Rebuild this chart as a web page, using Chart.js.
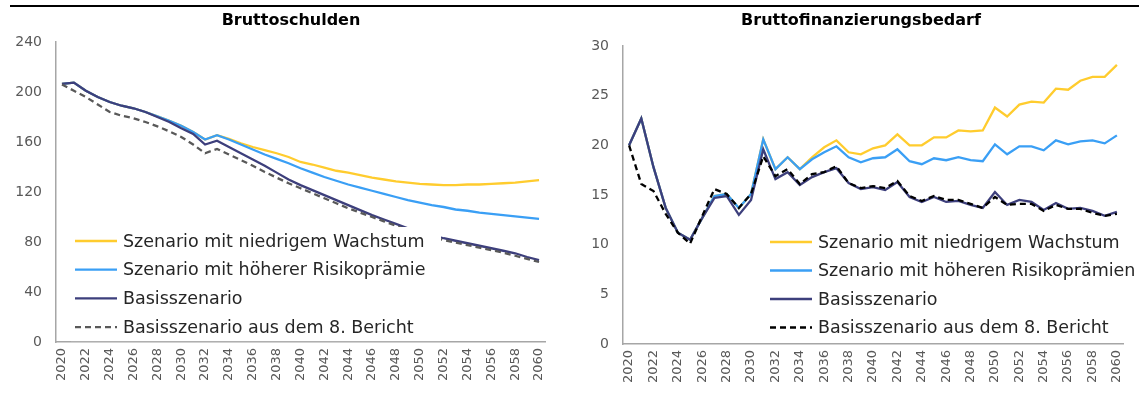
<!DOCTYPE html>
<html>
<head>
<meta charset="utf-8">
<script src="https://cdn.jsdelivr.net/npm/chart.js@4"></script>
<style>
  body { margin: 0; background: #fff; width: 1139px; height: 405px; overflow: hidden; position: relative; font-family: 'DejaVu Sans', sans-serif; }
  .rule { position: absolute; left: 10px; right: 0; top: 5px; border-top: 2px solid #000; }
  .box { position: absolute; top: 0; height: 405px; }
  #left { left: 0; width: 570px; }
  #right { left: 570px; width: 569px; }
  .title { position: absolute; top: 10px; width: 400px; margin-left: -200px; text-align: center; font-weight: bold; font-size: 16px; line-height: 20px; color: #000; }
</style>
</head>
<body>
<div class="rule"></div>
<div class="box" id="left"><canvas id="debtChart"></canvas></div>
<div class="box" id="right"><canvas id="gfnChart"></canvas></div>
<div class="title" style="left:291px">Bruttoschulden</div>
<div class="title" style="left:861px">Bruttofinanzierungsbedarf</div>
<script>
// Jahre
const years = ['2020','2021','2022','2023','2024','2025','2026','2027','2028','2029',
  '2030','2031','2032','2033','2034','2035','2036','2037','2038','2039',
  '2040','2041','2042','2043','2044','2045','2046','2047','2048','2049',
  '2050','2051','2052','2053','2054','2055','2056','2057','2058','2059','2060'];

const seriesNames = ['Szenario mit niedrigem Wachstum', 'Szenario mit höherer Risikoprämie', 'Basisszenario', 'Basisszenario aus dem 8. Bericht'];
const seriesNamesGfn = ['Szenario mit niedrigem Wachstum', 'Szenario mit höheren Risikoprämien', 'Basisszenario', 'Basisszenario aus dem 8. Bericht'];

// Bruttoschulden
const debtLowGrowth = [206.5,207.5,201,196,192,189,187,184,180.5,177,
  173,168,162,165.5,162.5,159,156,153.5,151,148,
  144,142,139.5,137,135.5,133.5,131.5,130,128.5,127.5,
  126.5,126,125.5,125.5,126,126,126.5,127,127.5,128.5,129.5];
const debtRiskPremium = [206.5,207.5,201,196,192,189,187,184,180.5,177,
  173,168,162,165.5,162,158,154,150,146.5,143,
  139,135.5,132,129,126,123.5,121,118.5,116,113.5,
  111.5,109.5,108,106,105,103.5,102.5,101.5,100.5,99.5,98.5];
const debtBase = [206.5,207.5,201,196,192,189,187,184,180,176,
  171,166.5,158,161,156,151,146,141,135.5,130,
  125.5,121.5,117.5,113.5,109.5,105.5,101.5,98,94.5,91,
  88,85.5,83,81,79,77,75,73,71,68,65.5];
const debtBase8 = [206,201,196,190,184,181,179,176,172.5,168.5,
  164,158,151,154.5,150,145.5,141,136,131.5,127,
  123,119,115,111,107,103.5,100,96.5,93,89.5,
  86.5,84,81.5,79.5,77.5,75.5,73.5,71.5,69,66.5,64];

// Bruttofinanzierungsbedarf
const gfnLowGrowth = [20,22.7,17.8,13.7,11.2,10.5,12.7,14.9,15.1,13.7,
  15.1,20.6,17.6,18.8,17.6,18.8,19.8,20.5,19.3,19.1,
  19.7,20.0,21.1,20.0,20.0,20.8,20.8,21.5,21.4,21.5,
  23.8,22.9,24.1,24.4,24.3,25.7,25.6,26.5,26.9,26.9,28.1];
const gfnRiskPremium = [20,22.7,17.8,13.7,11.2,10.5,12.7,14.9,15.1,13.7,
  15.1,20.6,17.6,18.8,17.6,18.6,19.3,19.9,18.8,18.3,
  18.7,18.8,19.6,18.4,18.1,18.7,18.5,18.8,18.5,18.4,
  20.1,19.1,19.9,19.9,19.5,20.5,20.1,20.4,20.5,20.2,21.0];
const gfnBase = [20,22.7,17.8,13.7,11.2,10.5,12.7,14.7,14.9,13.0,
  14.5,19.6,16.6,17.3,16.0,16.8,17.3,17.7,16.2,15.6,
  15.8,15.5,16.3,14.8,14.3,14.8,14.3,14.4,14.0,13.7,
  15.3,14.0,14.5,14.3,13.5,14.2,13.6,13.7,13.4,12.9,13.3];
const gfnBase8 = [20,16.1,15.4,13.1,11.2,10.1,12.9,15.6,15.1,13.7,
  15.1,18.9,16.9,17.6,16.1,17.1,17.3,17.9,16.2,15.7,
  15.9,15.7,16.4,14.9,14.4,14.9,14.5,14.5,14.1,13.7,
  14.8,14.0,14.1,14.1,13.4,14.0,13.6,13.6,13.2,12.9,13.1];

const debtTicks = [0, 40, 80, 120, 160, 200, 240];
const gfnTicks = [0, 5, 10, 15, 20, 25, 30];

const YELLOW = '#FFCC2E';
const LIGHTBLUE = '#3A9FF5';
const NAVY = '#3D3F7C';
const FONT = "'DejaVu Sans', sans-serif";

// Legende innerhalb der Zeichenfläche (mit weißem Hintergrund)
const insideLegend = {
    id: 'insideLegend',
    afterDraw(chart, args, opts) {
        const ctx = chart.ctx;
        const area = chart.chartArea;
        ctx.save();
        ctx.fillStyle = '#fff';
        ctx.fillRect(area.left + opts.x - 4, opts.y - 14, opts.boxWidth, 3 * opts.rowHeight + 28);
        ctx.font = opts.fontSize + 'px ' + FONT;
        ctx.textBaseline = 'middle';
        chart.data.datasets.forEach((ds, i) => {
            const y = opts.y + i * opts.rowHeight;
            const x = area.left + opts.x;
            ctx.strokeStyle = ds.borderColor;
            ctx.lineWidth = ds.borderWidth;
            ctx.setLineDash(ds.borderDash || []);
            ctx.beginPath();
            ctx.moveTo(x, y);
            ctx.lineTo(x + opts.lineLength, y);
            ctx.stroke();
            ctx.setLineDash([]);
            ctx.fillStyle = '#262626';
            ctx.fillText(ds.label, x + opts.lineLength + 6, y + 1);
        });
        ctx.restore();
    }
};

function makeDataset(label, data, color, order, dash) {
    return {
        label: label,
        data: data,
        borderColor: color,
        backgroundColor: color,
        borderWidth: 2.3,
        borderDash: dash,
        pointRadius: 0,
        tension: 0,
        order: order
    };
}

function makeChart(canvasId, names, series, dashColor, ticks, yMax, leftWidth, topPad, axisHeight, rightPad, legend) {
    return new Chart(document.getElementById(canvasId), {
        type: 'line',
        data: {
            labels: years,
            datasets: [
                makeDataset(names[0], series[0], YELLOW, 3),
                makeDataset(names[1], series[1], LIGHTBLUE, 2),
                makeDataset(names[2], series[2], NAVY, 1),
                makeDataset(names[3], series[3], dashColor, 0, [6, 4])
            ]
        },
        options: {
            responsive: false,
            animation: false,
            maintainAspectRatio: false,
            layout: { padding: { left: 0, right: rightPad, top: topPad, bottom: 0 } },
            plugins: {
                legend: { display: false },
                tooltip: { enabled: false },
                title: { display: false },
                insideLegend: legend
            },
            scales: {
                x: {
                    offset: true,
                    grid: { display: false, drawTicks: false },
                    border: { color: '#A6A6A6', width: 1.5 },
                    ticks: {
                        autoSkip: false,
                        minRotation: 90,
                        maxRotation: 90,
                        padding: 6,
                        color: '#595959',
                        font: { family: FONT, size: 13 },
                        callback: function (value, index) {
                            return index % 2 === 0 ? this.getLabelForValue(value) : '';
                        }
                    },
                    afterFit: scale => { scale.height = axisHeight; }
                },
                y: {
                    min: 0,
                    max: yMax,
                    grid: { display: false, drawTicks: false },
                    border: { color: '#A6A6A6', width: 1.5 },
                    afterBuildTicks: scale => { scale.ticks = ticks.map(v => ({ value: v })); },
                    ticks: {
                        padding: 14,
                        color: '#595959',
                        font: { family: FONT, size: 14 }
                    },
                    afterFit: scale => { scale.width = leftWidth; }
                }
            }
        },
        plugins: [insideLegend]
    });
}

function sizeCanvas(id, w, h) {
    const c = document.getElementById(id);
    c.width = w; c.height = h;
    c.style.width = w + 'px'; c.style.height = h + 'px';
}
sizeCanvas('debtChart', 570, 405);
sizeCanvas('gfnChart', 569, 405);

makeChart('debtChart', seriesNames,
    [debtLowGrowth, debtRiskPremium, debtBase, debtBase8], '#595959',
    debtTicks, 240, 56, 42, 63, 25,
    { x: 19, y: 241, rowHeight: 28.7, lineLength: 42, fontSize: 17.5, boxWidth: 370 });

makeChart('gfnChart', seriesNamesGfn,
    [gfnLowGrowth, gfnRiskPremium, gfnBase, gfnBase8], '#000000',
    gfnTicks, 30, 53, 46, 61, 16,
    { x: 147, y: 242, rowHeight: 28.5, lineLength: 42, fontSize: 17.5, boxWidth: 370 });
</script>
</body>
</html>
